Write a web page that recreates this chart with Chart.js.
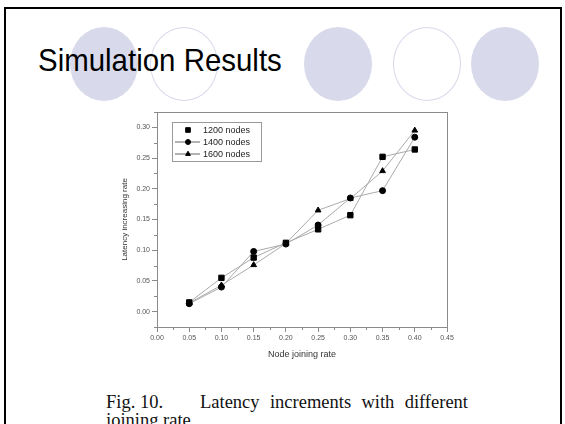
<!DOCTYPE html>
<html>
<head>
<meta charset="utf-8">
<script src="https://cdn.jsdelivr.net/npm/chart.js@4/dist/chart.umd.min.js"></script>
<style>
  html, body { margin: 0; padding: 0; background: #fff; }
  #slide { position: relative; width: 565px; height: 424px; overflow: hidden; background: #fff; }
  #frame { position: absolute; left: 4px; top: 7px; width: 554px; height: 430px; border: 2px solid #000; }
  .dot { position: absolute; top: 27px; width: 68px; height: 74px; border-radius: 50%; box-sizing: border-box; }
  .full { background: #d9d9ec; }
  .ring { border: 1px solid #d9d9ec; }
  #title { position: absolute; left: 38px; top: 42px; font: 32px "Liberation Sans", Arial, sans-serif;
           color: #000; transform: scaleX(0.92); transform-origin: left top; white-space: nowrap; }
  .cap { position: absolute; font: 18.5px "Liberation Serif", "Times New Roman", serif; line-height: 18px; color: #111; white-space: nowrap; }
  .just { text-align: justify; text-align-last: justify; }
  #wrap { position: absolute; left: 0; top: 0; width: 565px; height: 424px; }
</style>
</head>
<body>
<div id="slide">
  <div id="frame"></div>
  <div class="dot full" style="left:70px"></div>
  <div class="dot ring" style="left:150px"></div>
  <div class="dot full" style="left:304px"></div>
  <div class="dot ring" style="left:393px"></div>
  <div class="dot full" style="left:471px"></div>
  <div id="title">Simulation Results</div>
  <div class="cap" style="left:106px; top:393px">Fig. 10.</div>
  <div class="cap just" style="left:200px; top:393px; width:268px">Latency increments with different</div>
  <div class="cap" style="left:106px; top:411px">joining rate</div>
  <div id="wrap"><canvas id="chart"></canvas></div>
</div>
<script>
// valores
const joinRates = [0.05, 0.10, 0.15, 0.20, 0.25, 0.30, 0.35, 0.40];
const nodes1200 = [0.015, 0.055, 0.088, 0.112, 0.134, 0.157, 0.252, 0.264];
const nodes1400 = [0.013, 0.040, 0.098, 0.110, 0.141, 0.185, 0.197, 0.284];
const nodes1600 = [0.014, 0.043, 0.076, 0.111, 0.165, 0.184, 0.229, 0.295];
const seriesLabels = ['1200 nodes', '1400 nodes', '1600 nodes'];

const xTicks = [0, 0.05, 0.10, 0.15, 0.20, 0.25, 0.30, 0.35, 0.40, 0.45];
const yTicks = [0, 0.05, 0.10, 0.15, 0.20, 0.25, 0.30];

const AXIS = '#8a8a8a';
const TEXT = '#555';

function pts(vals) {
  return vals.map((v, i) => ({ x: joinRates[i], y: v }));
}

// marcas menores entre las principales
const minorTicks = {
  id: 'minorTicks',
  afterDraw(chart) {
    const ctx = chart.ctx;
    const xs = chart.scales.x, ys = chart.scales.y;
    ctx.save();
    ctx.strokeStyle = AXIS;
    ctx.lineWidth = 1;
    ctx.beginPath();
    for (let i = 0; i < xTicks.length - 1; i++) {
      const px = Math.round(xs.getPixelForValue((xTicks[i] + xTicks[i + 1]) / 2)) + 0.5;
      ctx.moveTo(px, ys.bottom);
      ctx.lineTo(px, ys.bottom + 3);
    }
    const yMinor = [-0.025];
    yTicks.forEach(v => yMinor.push(v + 0.025));
    yMinor.forEach(v => {
      const py = Math.round(ys.getPixelForValue(v)) + 0.5;
      ctx.moveTo(xs.left, py);
      ctx.lineTo(xs.left - 3, py);
    });
    ctx.stroke();
    // caja completa del gráfico
    const a = chart.chartArea;
    ctx.strokeRect(Math.round(a.left) + 0.5, Math.round(a.top) + 0.5,
                   Math.round(a.right - a.left), Math.round(a.bottom - a.top));
    ctx.restore();
  }
};

// leyenda dentro del área
const boxLegend = {
  id: 'boxLegend',
  afterDraw(chart, args, opts) {
    const ctx = chart.ctx;
    const a = chart.chartArea;
    const x0 = a.left + 15, y0 = a.top + 10;
    ctx.save();
    ctx.strokeStyle = '#999';
    ctx.lineWidth = 1;
    ctx.strokeRect(x0 + 0.5, y0 + 0.5, 89, 39);
    ctx.font = '9px "Liberation Sans", Arial, sans-serif';
    ctx.textBaseline = 'middle';
    chart.data.datasets.forEach((ds, i) => {
      const cy = y0 + 8 + i * 12;
      if (opts.lines[i]) {
        ctx.strokeStyle = '#666';
        ctx.beginPath();
        ctx.moveTo(x0 + 3, cy);
        ctx.lineTo(x0 + 28, cy);
        ctx.stroke();
      }
      ctx.fillStyle = '#000';
      ctx.strokeStyle = '#000';
      Chart.helpers.drawPoint(ctx, { pointStyle: ds.pointStyle, radius: ds.pointRadius - 0.5, borderWidth: 1 }, x0 + 16, cy);
      ctx.fillStyle = '#222';
      ctx.fillText(ds.label, x0 + 31, cy + 0.5);
    });
    ctx.restore();
  }
};

const series = [nodes1200, nodes1400, nodes1600];
const styles = ['rect', 'circle', 'triangle'];
const radii = [3.8, 3, 3.3];

new Chart(document.getElementById('chart'), {
  type: 'line',
  data: {
    datasets: series.map((s, i) => ({
      label: seriesLabels[i],
      data: pts(s),
      borderColor: '#aaa',
      borderWidth: 1,
      pointStyle: styles[i],
      pointRadius: radii[i],
      pointBackgroundColor: '#000',
      pointBorderColor: '#000',
      pointBorderWidth: 1,
      tension: 0,
      fill: false
    }))
  },
  options: {
    responsive: true,
    maintainAspectRatio: false,
    animation: false,
    layout: { padding: { left: 100, top: 112, right: 118, bottom: 57 } },
    plugins: {
      legend: { display: false },
      tooltip: { enabled: false },
      boxLegend: { lines: [false, true, true] }
    },
    scales: {
      x: {
        type: 'linear',
        min: 0,
        max: 0.45,
        afterFit: s => { s.height = 40; },
        afterBuildTicks: s => { s.ticks = xTicks.map(v => ({ value: v })); },
        ticks: {
          color: TEXT,
          font: { size: 7, family: '"Liberation Sans", Arial, sans-serif' },
          padding: 2,
          maxRotation: 0,
          callback: v => v.toFixed(2)
        },
        grid: { drawOnChartArea: false, tickLength: 5, tickColor: AXIS },
        border: { color: AXIS },
        title: {
          display: true,
          text: 'Node joining rate',
          color: '#333',
          font: { size: 9, family: '"Liberation Sans", Arial, sans-serif' },
          padding: { bottom: 7 }
        }
      },
      y: {
        type: 'linear',
        min: -0.025,
        max: 0.325,
        afterFit: s => { s.width = 57; },
        afterBuildTicks: s => { s.ticks = yTicks.map(v => ({ value: v })); },
        ticks: {
          color: TEXT,
          font: { size: 7, family: '"Liberation Sans", Arial, sans-serif' },
          padding: 2,
          callback: v => v.toFixed(2)
        },
        grid: { drawOnChartArea: false, tickLength: 5, tickColor: AXIS },
        border: { color: AXIS },
        title: {
          display: true,
          text: 'Latency increasing rate',
          color: '#333',
          font: { size: 8, family: '"Liberation Sans", Arial, sans-serif' },
          padding: { top: 20 }
        }
      }
    }
  },
  plugins: [minorTicks, boxLegend]
});
</script>
</body>
</html>
